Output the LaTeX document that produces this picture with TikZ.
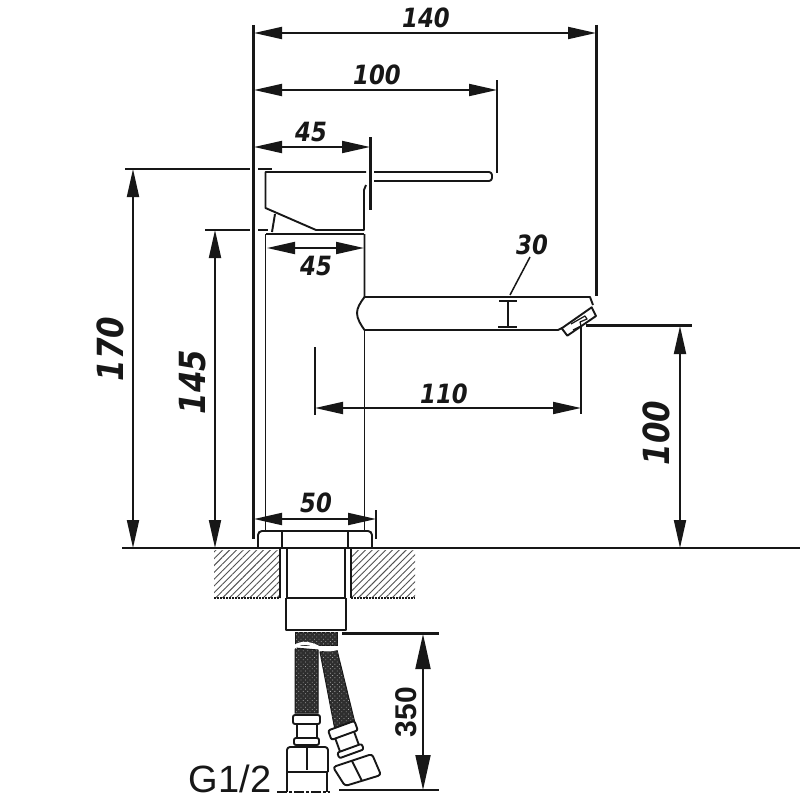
\documentclass[tikz,border=0pt]{standalone}
\usepackage{fontspec}
\usepackage{graphicx}
\usetikzlibrary{arrows.meta,patterns,patterns.meta}
\newfontfamily\dimfont{DejaVu Sans}[BoldItalicFont={DejaVu Sans Bold Oblique}]
\setmainfont{Liberation Sans}
\definecolor{ink}{HTML}{171717}
\newcommand{\narrowtxt}[1]{\scalebox{.86}[1]{#1}}
\tikzset{
  obj/.style={draw=ink,line width=1.9pt,line join=round},
  ext/.style={draw=ink,line width=2.3pt},
  dimline/.style={draw=ink,line width=1.9pt,{Triangle[length=28pt,width=12pt]}-{Triangle[length=28pt,width=12pt]}},
  bigdim/.style={draw=ink,line width=1.9pt,{Triangle[length=35pt,width=15pt]}-{Triangle[length=35pt,width=15pt]}},
  lab/.style={text=ink,inner sep=0pt,font=\dimfont\bfseries\itshape\fontsize{26.5}{26.5}\selectfont},
  biglab/.style={text=ink,inner sep=0pt,rotate=90,font=\dimfont\bfseries\itshape\fontsize{36}{36}\selectfont},
  hose/.style={draw=ink,line width=1pt,fill=ink!90},
  hosetex/.style={pattern={Dots[radius=.55pt,distance=3.2pt,angle=45]},pattern color=gray!70},
  hatchfill/.style={pattern={Lines[angle=45,distance=4.8pt,line width=.9pt]},pattern color=ink!75},
}
\begin{document}
\begin{tikzpicture}[x=1pt,y=-1pt]
\useasboundingbox (0,0) rectangle (800,800);
\fill[white] (0,0) rectangle (800,800);

% hatched counter
\fill[hatchfill] (214,550) rectangle (279,597);
\fill[hatchfill] (352,550) rectangle (415,597);
\draw[ink,line width=1.5pt,dash pattern=on 2pt off 1pt] (214,598) -- (280,598) (351,598) -- (415,598);

% extension lines
\draw[ext] (253.5,25) -- (253.5,539);
\draw[ext] (596.5,25) -- (596.5,296);
\draw[ext] (497,80) -- (497,173);
\draw[ext] (370.5,137) -- (370.5,210);
\draw[ext] (125,169) -- (250,169) (258,169) -- (272,169);
\draw[ext] (205,230) -- (250,230) (258,230) -- (268,230);
\draw[ext] (376,510) -- (376,539);
\draw[ext] (315,347) -- (315,415);
\draw[ext] (581,326) -- (581,414);
\draw[ext] (586,325.5) -- (692,325.5);
\draw[ext] (122,548) -- (800,548);
\draw[ext] (342,633.5) -- (439,633.5);
\draw[ext] (339,790) -- (439,790);

% faucet handle
\draw[obj] (366,172) -- (265.5,172) -- (265.5,208) -- (316,230) -- (364,230) -- (364,190) -- (366,185);
\draw[obj] (275,214) -- (272,232);
\draw[obj,rounded corners=3pt] (374,172) -- (492,172) -- (492,181) -- (374,181);
\draw[obj] (266,234) -- (364,234);
\draw[obj] (265.5,234) -- (265.5,531);
\draw[obj] (364.5,234) -- (364.5,297) -- (590,297) -- (593,305);
\draw[obj] (364.5,297) .. controls (360,303) and (357,308) .. (357,313) .. controls (357,319) and (361,325) .. (364.5,330);
\draw[obj] (364.5,330) -- (364.5,531);
\draw[obj] (364.5,330) -- (558,330) -- (562,328);
% aerator
\draw[obj] (561.7,328.3) -- (591.7,307.3) -- (596,316) -- (567.3,335.7) -- cycle;
\draw[obj,line width=1.2pt] (571,324) -- (585,316) -- (587,319) -- (580,322) -- (581,326) -- (573,330);

% flange and shank
\draw[obj,rounded corners=4pt] (258,547) -- (258,531) -- (372,531) -- (372,547);
\draw[obj] (282,531) -- (282,547) (348,531) -- (348,547);
\draw[obj,line width=1.3pt] (280,549) -- (280,598) (351,549) -- (351,598);
\draw[obj,line width=2.3pt] (287,549) -- (287,598) (345,549) -- (345,598);
\draw[obj,line width=2.3pt] (286,598) -- (346,598);
\draw[obj] (286,598) -- (286,630) -- (346,630) -- (346,598);

% hoses
\path[hose] (295,632) -- (337,632) -- (337,645) -- (295,645) -- cycle;
\path[hose] (295,648) -- (318,650) -- (318,713) -- (295,713) -- cycle;
\path[hose] (320,652) -- (337,650) -- (355,723) -- (335,730) -- cycle;
\fill[hosetex] (295,632) -- (337,632) -- (337,645) -- (295,645) -- cycle;
\fill[hosetex] (295,648) -- (318,650) -- (318,713) -- (295,713) -- cycle;
\fill[hosetex] (320,652) -- (337,650) -- (355,723) -- (335,730) -- cycle;
\draw[white,line width=3.2pt] (293,648) .. controls (302,640) and (312,644) .. (320,648) .. controls (326,652) and (333,649) .. (340,648);

% left fitting
\draw[obj,fill=white,rounded corners=2pt] (293,715) rectangle (320,724);
\draw[obj] (297,724) -- (297,738) (317,724) -- (317,738);
\draw[obj,fill=white,rounded corners=2pt] (294,738) rectangle (319,745);
\draw[obj,rounded corners=3pt] (287,772) -- (287,747) -- (328,747) -- (328,772);
\draw[obj] (287,772) -- (328,772) (307,747) -- (307,770);
\draw[obj] (287,772) -- (287,792) (327,772) -- (327,792);
\draw[obj,dash pattern=on 10pt off 2pt on 3pt off 2pt] (277,792) -- (330,792);

% right fitting
\begin{scope}[shift={(345,736)},rotate=20]
\draw[obj,fill=white,rounded corners=2pt] (-14,-11) rectangle (14,-1);
\draw[obj] (-10,-1) -- (-10,13) (10,-1) -- (10,13);
\draw[obj,fill=white,rounded corners=2pt] (-13,13) rectangle (13,19);
\end{scope}
\draw[obj,rounded corners=3pt,fill=white] (333,767) -- (372,754) -- (381,775) -- (345,786) -- cycle;
\draw[obj] (352,761) -- (362,781);

% dimensions
\draw[dimline] (254,33) -- (596,33);
\draw[dimline] (254,90) -- (497,90);
\draw[dimline] (254,147) -- (370,147);
\draw[dimline] (267,248) -- (364,248);
\draw[dimline] (315,408) -- (581,408);
\draw[dimline] (254,519) -- (376,519);
\draw[dimline] (133,169) -- (133,548);
\draw[dimline] (215,230) -- (215,548);
\draw[dimline] (680,326) -- (680,548);
\draw[bigdim] (423,634) -- (423,790);
% small 30 dimension
\draw[ink,line width=1.6pt] (499,301) -- (517,301) (508,301) -- (508,327) (498,327) -- (517,327);
\draw[ink,line width=1.5pt] (530,257) -- (510,295);

% labels
\node[lab] (l140) at (426,18) {\narrowtxt{140}};
\node[lab] (l100a) at (377,75) {\narrowtxt{100}};
\node[lab] (l45a) at (311,132) {\narrowtxt{45}};
\node[lab] (l45b) at (316,266) {\narrowtxt{45}};
\node[lab] (l30) at (532,245) {\narrowtxt{30}};
\node[lab] (l110) at (444,394) {\narrowtxt{110}};
\node[lab] (l50) at (316,503) {\narrowtxt{50}};
\node[biglab] (l170) at (110,349) {\narrowtxt{170}};
\node[biglab] (l145) at (193,382) {\narrowtxt{145}};
\node[biglab] (l100b) at (656,433) {\narrowtxt{100}};
\node[text=ink,inner sep=0pt,rotate=90,font=\bfseries\fontsize{30}{30}\selectfont] (l350) at (406,712) {350};
\node[text=ink,inner sep=0pt,font=\fontsize{38}{38}\selectfont] (lg) at (230,779) {G1/2};
\end{tikzpicture}
\end{document}
